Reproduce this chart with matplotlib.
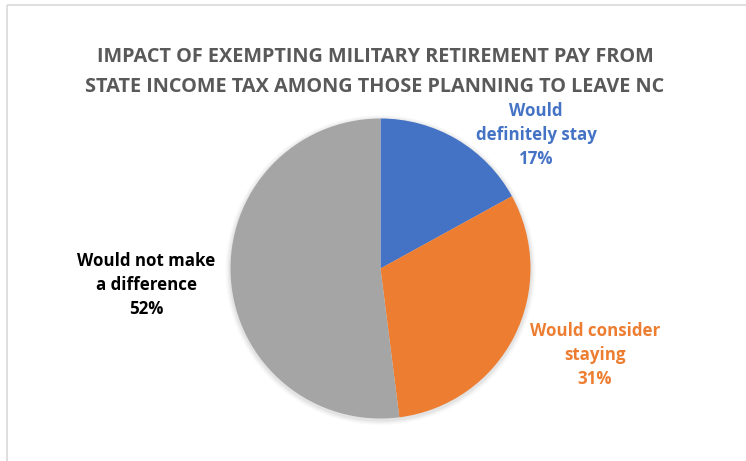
import matplotlib.pyplot as plt
from matplotlib.patches import Rectangle, Circle

categories = ["Would\ndefinitely stay", "Would consider\nstaying", "Would not make\na difference"]
values = [17, 31, 52]
colors = ["#4472C4", "#ED7D31", "#A5A5A5"]
label_colors = ["#4472C4", "#ED7D31", "#000000"]
title = "IMPACT OF EXEMPTING MILITARY RETIREMENT PAY FROM\nSTATE INCOME TAX AMONG THOSE PLANNING TO LEAVE NC"

W, H = 746, 461
fig = plt.figure(figsize=(W / 100, H / 100), dpi=100)
ax = fig.add_axes([0, 0, 1, 1])

cx, cy, r = 380.5, 268.5, 150

# soft shadow around the pie
for i, a in enumerate([0.035, 0.03, 0.025, 0.02]):
    ax.add_patch(Circle((cx, cy + 1.5), r + 1.5 + i * 1.2, color="black", alpha=a, linewidth=0, zorder=1))

# y axis is inverted below, so start at -90 and run counterclockwise in data
# space: on screen this starts at 12 o'clock and goes clockwise
ax.pie(values, colors=colors, startangle=-90, counterclock=True,
       center=(cx, cy), radius=r, frame=True,
       wedgeprops=dict(linewidth=0, zorder=2))
ax.set_xlim(0, W)
ax.set_ylim(H, 0)
ax.set_aspect("equal")
ax.axis("off")

# chart area frame
ax.add_patch(Rectangle((6.5, 4.5), 760, 470, fill=False, edgecolor="#D9D9D9", linewidth=1.2))

font = ["Open Sans", "DejaVu Sans"]
ax.text(W / 2 + 2, 72, title, ha="center", va="center", fontsize=14.3, fontweight="bold",
        color="#595959", family=font, linespacing=1.62)

label_pos = [(536, 135), (595, 355), (146.5, 285)]
for cat, v, (x, y), c in zip(categories, values, label_pos, label_colors):
    ax.text(x, y, f"{cat}\n{v}%", ha="center", va="center", fontsize=12.2,
            fontweight="bold", color=c, family=font, linespacing=1.45)

fig.savefig("out.png", dpi=100)
